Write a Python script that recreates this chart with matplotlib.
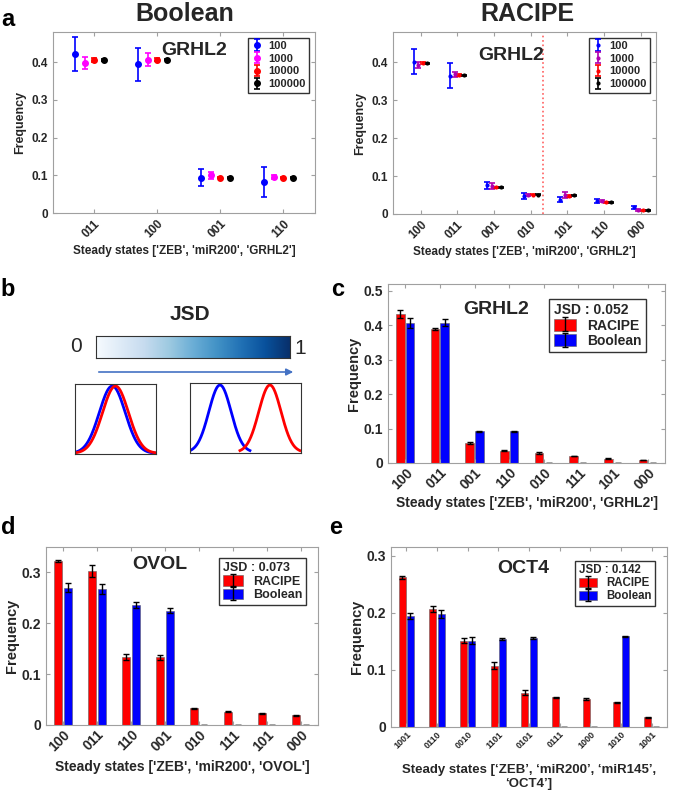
import numpy as np
import matplotlib
matplotlib.use("Agg")
import matplotlib.pyplot as plt
from matplotlib.legend_handler import HandlerTuple

plt.rcParams['font.family'] = ['Liberation Sans', 'DejaVu Sans']
plt.rcParams['font.weight'] = 'bold'
plt.rcParams['axes.labelweight'] = 'bold'
plt.rcParams['text.color'] = '#262626'
plt.rcParams['axes.labelcolor'] = '#262626'
plt.rcParams['xtick.color'] = '#262626'
plt.rcParams['ytick.color'] = '#262626'

# ---- panel a data ----
sizes = ['100', '1000', '10000', '100000']
bool_states = ['011', '100', '001', '110']
bool_means = [[0.421, 0.394, 0.094, 0.082],
              [0.398, 0.407, 0.100, 0.095],
              [0.406, 0.407, 0.094, 0.094],
              [0.406, 0.407, 0.094, 0.094]]
bool_errs = [[0.045, 0.043, 0.023, 0.039],
             [0.017, 0.017, 0.010, 0.006],
             [0.005, 0.003, 0.002, 0.002],
             [0.002, 0.001, 0.001, 0.001]]

rac_states = ['100', '011', '001', '010', '101', '110', '000']
rac_means = [[0.402, 0.365, 0.076, 0.047, 0.038, 0.034, 0.018],
             [0.393, 0.368, 0.073, 0.050, 0.050, 0.034, 0.010],
             [0.398, 0.366, 0.070, 0.051, 0.047, 0.031, 0.010],
             [0.397, 0.366, 0.070, 0.051, 0.049, 0.031, 0.010]]
rac_errs = [[0.034, 0.034, 0.009, 0.008, 0.006, 0.006, 0.004],
            [0.008, 0.006, 0.008, 0.003, 0.007, 0.003, 0.002],
            [0.003, 0.002, 0.002, 0.001, 0.002, 0.001, 0.001],
            [0.001, 0.001, 0.001, 0.001, 0.001, 0.001, 0.001]]

# ---- panel c data ----
grhl2_states = ['100', '011', '001', '110', '010', '111', '101', '000']
grhl2_rac = [0.433, 0.389, 0.058, 0.036, 0.029, 0.020, 0.013, 0.009]
grhl2_rac_err = [0.012, 0.004, 0.002, 0.002, 0.002, 0.001, 0.001, 0.001]
grhl2_bool = [0.406, 0.407, 0.092, 0.092, 0, 0, 0, 0]
grhl2_bool_err = [0.015, 0.010, 0.002, 0.001, 0, 0, 0, 0]

# ---- panel d data ----
ovol_states = ['100', '011', '110', '001', '010', '111', '101', '000']
ovol_rac = [0.322, 0.303, 0.133, 0.133, 0.033, 0.026, 0.023, 0.019]
ovol_rac_err = [0.002, 0.012, 0.006, 0.005, 0.001, 0.001, 0.001, 0.001]
ovol_bool = [0.270, 0.267, 0.236, 0.225, 0, 0, 0, 0]
ovol_bool_err = [0.009, 0.010, 0.006, 0.005, 0, 0, 0, 0]

# ---- panel e data ----
oct4_states = ['1001', '0110', '0010', '1101', '0101', '0111', '1000', '1010', '1001']
oct4_rac = [0.262, 0.207, 0.151, 0.107, 0.060, 0.052, 0.049, 0.043, 0.017]
oct4_rac_err = [0.003, 0.005, 0.004, 0.006, 0.004, 0.001, 0.002, 0.001, 0.001]
oct4_bool = [0.194, 0.198, 0.151, 0.154, 0.156, 0, 0, 0.159, 0]
oct4_bool_err = [0.005, 0.007, 0.006, 0.002, 0.002, 0, 0, 0.001, 0]

# schematic gaussians for panel b (centres, as fraction of box width)
same_centres = [0.46, 0.50]
apart_centres = [0.27, 0.72]

W, H = 685, 795
fig = plt.figure(figsize=(W / 100, H / 100), dpi=100)


def ax_px(x0, y0, x1, y1):
    return fig.add_axes([x0 / W, 1 - y1 / H, (x1 - x0) / W, (y1 - y0) / H])


def matlab_style(ax, fs):
    for s in ax.spines.values():
        s.set_color('#a0a0a0')
        s.set_linewidth(0.8)
    ax.tick_params(direction='in', top=True, right=True, length=3,
                   color='#a0a0a0', labelsize=fs)


def rotate_ticks(ax, labels, fs):
    ax.set_xticklabels(labels, rotation=45, ha='right', rotation_mode='anchor',
                       fontsize=fs)


# ---------------- panel a ----------------
point_colors_bool = ['#0000ff', '#ff00ff', '#ff0000', '#000000']
point_colors_rac = ['#0000ff', '#b000b0', '#ff0000', '#000000']

axa = ax_px(53, 32, 315, 213)
xb = np.arange(1, len(bool_states) + 1)
for i, s in enumerate(sizes):
    axa.errorbar(xb - 0.3 + 0.15 * i, bool_means[i], yerr=bool_errs[i], fmt='o',
                 color=point_colors_bool[i], ms=4, capsize=2, elinewidth=1.2,
                 capthick=1.2, label=s)
axa.set_xlim(0.35, 4.5)
axa.set_ylim(0, 0.48)
axa.set_xticks(xb)
axa.set_yticks([0, 0.1, 0.2, 0.3, 0.4])
axa.set_yticklabels(['0', '0.1', '0.2', '0.3', '0.4'])
matlab_style(axa, 8.5)
rotate_ticks(axa, bool_states, 8.5)
axa.set_ylabel('Frequency', fontsize=9, labelpad=4)
axa.set_xlabel("Steady states ['ZEB', 'miR200', 'GRHL2']", fontsize=8.5, labelpad=3)
axa.text(0.54, 0.9, 'GRHL2', transform=axa.transAxes, ha='center', va='center',
         fontsize=14)
axa.legend(loc='upper right', fontsize=8, fancybox=False, edgecolor='#333333',
           handlelength=1, labelspacing=0.25, borderpad=0.3, handletextpad=0.6,
           framealpha=1)
fig.text(185 / W, 1 - 14 / H, 'Boolean', ha='center', va='center', fontsize=18)

axr = ax_px(393, 32, 656, 214)
xr = np.arange(1, len(rac_states) + 1)
rac_offsets = [-0.19, -0.06, 0.06, 0.19]
for i, s in enumerate(sizes):
    axr.errorbar(xr + rac_offsets[i], rac_means[i], yerr=rac_errs[i], fmt='.',
                 color=point_colors_rac[i], ms=4, capsize=2.5, elinewidth=1.2,
                 capthick=1.2, label=s)
axr.axvline(4.33, color='#ff6060', ls=':', lw=1.2)
axr.set_xlim(0.25, 7.42)
axr.set_ylim(0, 0.48)
axr.set_xticks(xr)
axr.set_yticks([0, 0.1, 0.2, 0.3, 0.4])
axr.set_yticklabels(['0', '0.1', '0.2', '0.3', '0.4'])
matlab_style(axr, 8.5)
rotate_ticks(axr, rac_states, 8.5)
axr.set_ylabel('Frequency', fontsize=9, labelpad=4)
axr.set_xlabel("Steady states ['ZEB', 'miR200', 'GRHL2']", fontsize=8.5, labelpad=3)
axr.text(0.45, 0.87, 'GRHL2', transform=axr.transAxes, ha='center', va='center',
         fontsize=14)
axr.legend(loc='upper right', fontsize=8, fancybox=False, edgecolor='#333333',
           handlelength=1, labelspacing=0.25, borderpad=0.3, handletextpad=0.6,
           framealpha=1)
fig.text(527 / W, 1 - 14 / H, 'RACIPE', ha='center', va='center', fontsize=18)

# ---------------- panel b ----------------
fig.text(190 / W, 1 - 314 / H, 'JSD', ha='center', va='center', fontsize=15)
axg = ax_px(96, 336, 290, 358)
axg.imshow(np.linspace(0, 1, 256).reshape(1, -1), cmap='Blues', aspect='auto',
           extent=[0, 1, 0, 1])
axg.set_xticks([])
axg.set_yticks([])
for s in axg.spines.values():
    s.set_color('#333333')
fig.text(76 / W, 1 - 347 / H, '0', ha='center', va='center', fontsize=15,
         fontweight='normal')
fig.text(300 / W, 1 - 349 / H, '1', ha='center', va='center', fontsize=15,
         fontweight='normal')

axb1 = ax_px(75, 384, 156, 454)
xs = np.linspace(0, 1, 200)
axb1.plot(xs, np.exp(-(xs - same_centres[0]) ** 2 / (2 * 0.16 ** 2)), color='blue', lw=2)
axb1.plot(xs, np.exp(-(xs - same_centres[1]) ** 2 / (2 * 0.16 ** 2)), color='red', lw=2)
axb2 = ax_px(190, 383, 301, 453)
xl = np.linspace(0.01, 0.54, 150)
xh = np.linspace(0.45, 0.99, 150)
axb2.plot(xl, np.exp(-(xl - apart_centres[0]) ** 2 / (2 * 0.1 ** 2)), color='blue', lw=2)
axb2.plot(xh, np.exp(-(xh - apart_centres[1]) ** 2 / (2 * 0.1 ** 2)), color='red', lw=2)
for axx in (axb1, axb2):
    axx.set_xlim(0, 1)
    axx.set_ylim(-0.01, 1.03)
    axx.set_xticks([])
    axx.set_yticks([])
    for s in axx.spines.values():
        s.set_color('#333333')

ov = fig.add_axes([0, 0, 1, 1])
ov.axis('off')
ov.set_xlim(0, W)
ov.set_ylim(H, 0)
ov.annotate('', xy=(296, 372), xytext=(96, 372),
            arrowprops=dict(arrowstyle='-|>', color='#4472c4', lw=1.2,
                            mutation_scale=10))


# ---------------- bar panels ----------------
def bar_panel(box, states, rac, rac_err, boo, boo_err, ylim, yt, title, tpos,
              jsd, xlabel, tick_fs, lab_fs, leg_fs, anchor, off, bw, lpad):
    ax = ax_px(*box)
    x = np.arange(1, len(states) + 1)
    ekw = dict(ecolor='black', capsize=2.5, error_kw=dict(elinewidth=1, capthick=1))
    b1 = ax.bar(x - off, rac, bw, yerr=rac_err, color='#ff0000', edgecolor='#606060',
                linewidth=0.4, **ekw)
    b2 = ax.bar(x + off, boo, bw, yerr=boo_err, color='#0000ff', edgecolor='#606060',
                linewidth=0.4, **ekw)
    ax.set_xlim(0.5, len(states) + 0.5)
    ax.set_ylim(*ylim)
    ax.set_xticks(x)
    ax.set_yticks(yt)
    ax.set_yticklabels(['0'] + ['%.1f' % v for v in yt[1:]])
    matlab_style(ax, 10)
    rotate_ticks(ax, states, tick_fs)
    ax.tick_params(axis='x', pad=2)
    ax.set_ylabel('Frequency', fontsize=10.5, labelpad=2)
    ax.set_xlabel(xlabel, fontsize=lab_fs, labelpad=lpad)
    ax.text(tpos[0], tpos[1], title, transform=ax.transAxes, ha='center',
            va='center', fontsize=14)
    leg = ax.legend([(b1.patches[0], b1.errorbar), (b2.patches[0], b2.errorbar)],
                    ['RACIPE', 'Boolean'],
                    handler_map={tuple: HandlerTuple(ndivide=1, pad=0)},
                    loc='upper right', title='JSD : %.3f' % jsd, fontsize=leg_fs,
                    title_fontsize=leg_fs, fancybox=False, edgecolor='#333333',
                    handlelength=1.6, handleheight=0.9, labelspacing=0.1,
                    borderpad=0.3, framealpha=1, alignment='left',
                    bbox_to_anchor=anchor)
    leg.get_title().set_fontweight('bold')
    return ax


bar_panel((388, 284, 665, 463), grhl2_states, grhl2_rac, grhl2_rac_err,
          grhl2_bool, grhl2_bool_err, (0, 0.52), [0, 0.1, 0.2, 0.3, 0.4, 0.5],
          'GRHL2', (0.39, 0.86), 0.052,
          "Steady states ['ZEB', 'miR200', 'GRHL2']", 10, 10, 10, (0.955, 0.955),
          0.14, 0.25, 3)

bar_panel((46, 547, 318, 725), ovol_states, ovol_rac, ovol_rac_err,
          ovol_bool, ovol_bool_err, (0, 0.35), [0, 0.1, 0.2, 0.3],
          'OVOL', (0.42, 0.9), 0.073,
          "Steady states ['ZEB', 'miR200', 'OVOL']", 10, 10, 9, (0.978, 0.972),
          0.14, 0.24, 4)

bar_panel((391, 547, 667, 727), oct4_states, oct4_rac, oct4_rac_err,
          oct4_bool, oct4_bool_err, (0, 0.315), [0, 0.1, 0.2, 0.3],
          'OCT4', (0.48, 0.88), 0.142,
          "Steady states [\u2018ZEB\u2019, \u2018miR200\u2019, \u2018miR145\u2019,\n\u2018OCT4\u2019]",
          6.5, 9.5, 8.3, (0.978, 0.956), 0.135, 0.22, 10)

# panel letters
for letter, (px, py) in {'a': (8, 20), 'b': (8, 290), 'c': (338, 290),
                         'd': (8, 528), 'e': (336, 528)}.items():
    fig.text(px / W, 1 - py / H, letter, ha='center', va='center', fontsize=17,
             color='black')

fig.savefig('out.png', dpi=100)
